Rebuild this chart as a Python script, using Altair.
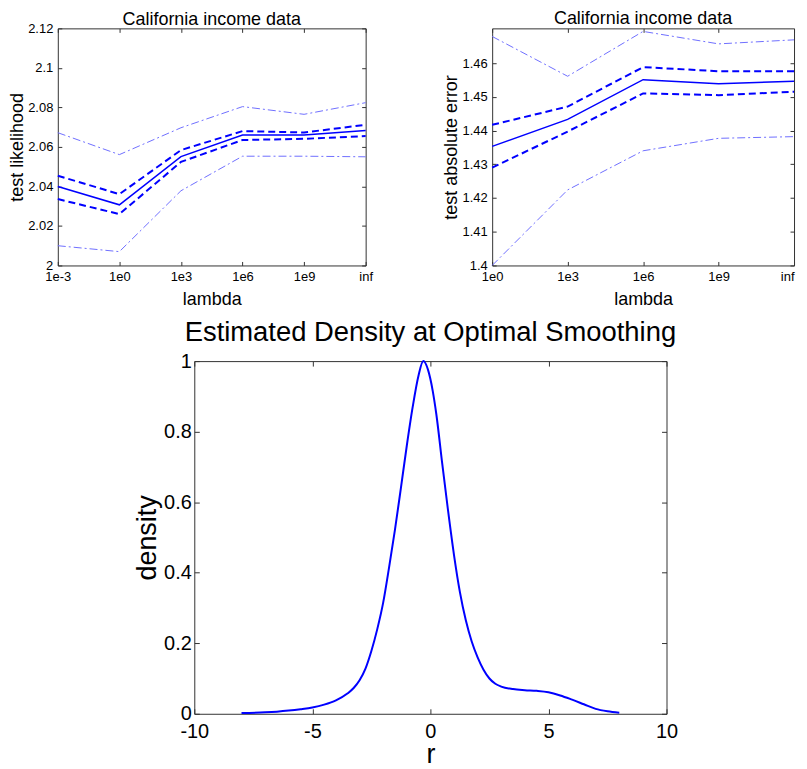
import altair as alt
import pandas as pd

FONT = "Liberation Sans"
BLUE = "#0000ff"
LIGHT = "#6f6fff"

# ---------------- top-left panel: test likelihood ----------------
lam_left = ["1e-3", "1e0", "1e3", "1e6", "1e9", "inf"]
lik_mean = [2.0400, 2.0307, 2.0551, 2.0660, 2.0660, 2.0683]
lik_hi = [2.0454, 2.0361, 2.0584, 2.0680, 2.0673, 2.0712]
lik_lo = [2.0336, 2.0260, 2.0524, 2.0635, 2.0641, 2.0655]
lik_max = [2.0672, 2.0561, 2.0697, 2.0804, 2.0765, 2.0824]
lik_min = [2.0100, 2.0070, 2.0378, 2.0553, 2.0553, 2.0550]
lik_ticks = [2.0, 2.02, 2.04, 2.06, 2.08, 2.1, 2.12]

# ---------------- top-right panel: test absolute error ----------------
lam_right = ["1e0", "1e3", "1e6", "1e9", "inf"]
err_mean = [1.4353, 1.4433, 1.4551, 1.4539, 1.4546]
err_hi = [1.4417, 1.4471, 1.4588, 1.4576, 1.4576]
err_lo = [1.4290, 1.4397, 1.4510, 1.4505, 1.4515]
err_max = [1.4679, 1.4561, 1.4694, 1.4657, 1.4669]
err_min = [1.4000, 1.4224, 1.4340, 1.4377, 1.4382]
err_ticks = [1.4, 1.41, 1.42, 1.43, 1.44, 1.45, 1.46]

# ---------------- bottom panel: estimated density ----------------
r_vals = [-8.0, -7.0, -6.5, -6.0, -5.5, -5.0, -4.5, -4.0, -3.5, -3.25, -3.0,
          -2.75, -2.5, -2.25, -2.0, -1.75, -1.5, -1.25, -1.0, -0.75, -0.5,
          -0.3, -0.1, 0.1, 0.25, 0.5, 0.75, 1.0, 1.25, 1.5, 1.75, 2.0, 2.25,
          2.5, 2.75, 3.0, 3.5, 4.0, 4.5, 5.0, 5.5, 6.0, 6.5, 7.0, 7.5, 8.0]
dens_vals = [0.002, 0.004, 0.006, 0.009, 0.013, 0.018, 0.026, 0.038, 0.058,
             0.073, 0.095, 0.128, 0.178, 0.240, 0.315, 0.415, 0.522, 0.640,
             0.760, 0.870, 0.960, 1.000, 0.975, 0.915, 0.850, 0.710, 0.575,
             0.450, 0.345, 0.265, 0.205, 0.160, 0.125, 0.100, 0.085, 0.077,
             0.070, 0.067, 0.065, 0.061, 0.052, 0.040, 0.027, 0.014, 0.007,
             0.003]
r_ticks = [-10, -5, 0, 5, 10]
dens_ticks = [0, 0.2, 0.4, 0.6, 0.8, 1]


def long_frame(lams, series):
    rows = []
    for name, style, vals in series:
        for lam, v in zip(lams, vals):
            rows.append({"lam": lam, "value": v, "series": name, "style": style})
    return pd.DataFrame(rows)


def tick_axis(orient, length, values):
    return alt.Axis(orient=orient, offset=-length, tickSize=length, labels=False,
                    domain=False, grid=False, title=None, values=values,
                    tickColor="#333333", tickWidth=1)


def top_panel(lams, series, ydomain, yticks, ytitle, width, height, ypad, toff, flush_last):
    df = long_frame(lams, series)
    xscale = alt.Scale(type="point", padding=0, domain=lams)
    yscale = alt.Scale(domain=ydomain, nice=False, zero=False)
    xaxis_kw = dict(orient="bottom", title="lambda", labelAngle=0, tickSize=0,
                    domain=False, labelPadding=5, titlePadding=7, labelFlush=False)
    if flush_last:
        xaxis_kw["labelAlign"] = {"condition": {"test": "datum.value === 'inf'", "value": "right"},
                                  "value": "center"}
    base = alt.Chart(df)
    solid = base.transform_filter(alt.datum.style == "mean").mark_line(
        color=BLUE, strokeWidth=1.5).encode(
        x=alt.X("lam:O", scale=xscale, sort=lams, axis=alt.Axis(**xaxis_kw)),
        y=alt.Y("value:Q", scale=yscale,
                axis=alt.Axis(orient="left", title=ytitle, values=yticks,
                              format="~g", tickSize=0, domain=False, grid=False,
                              labelPadding=5, titlePadding=ypad)),
        detail="series:N",
    )
    dashed = base.transform_filter(alt.datum.style == "band").mark_line(
        color=BLUE, strokeWidth=2, strokeDash=[7, 4]).encode(
        x=alt.X("lam:O", scale=xscale, sort=lams, axis=None),
        y=alt.Y("value:Q", scale=yscale, axis=None),
        detail="series:N",
    )
    dashdot = base.transform_filter(alt.datum.style == "range").mark_line(
        color=LIGHT, strokeWidth=1, strokeDash=[8, 3, 2, 3]).encode(
        x=alt.X("lam:O", scale=xscale, sort=lams, axis=None),
        y=alt.Y("value:Q", scale=yscale, axis=None),
        detail="series:N",
    )
    t1 = base.mark_point(opacity=0).encode(
        x=alt.X("lam:O", scale=xscale, sort=lams, axis=tick_axis("bottom", 4, lams)),
        y=alt.Y("value:Q", scale=yscale, axis=tick_axis("left", 4, yticks)),
    )
    t2 = base.mark_point(opacity=0).encode(
        x=alt.X("lam:O", scale=xscale, sort=lams, axis=tick_axis("top", 4, lams)),
        y=alt.Y("value:Q", scale=yscale, axis=tick_axis("right", 4, yticks)),
    )
    return alt.layer(dashdot, dashed, solid, t1, t2).resolve_axis(
        x="independent", y="independent").properties(
        width=width, height=height,
        title=alt.TitleParams("California income data", fontSize=18, font=FONT,
                              fontWeight="normal", color="black", offset=toff),
    )


left = top_panel(lam_left,
                 [("mean", "mean", lik_mean), ("hi", "band", lik_hi), ("lo", "band", lik_lo),
                  ("max", "range", lik_max), ("min", "range", lik_min)],
                 [2.0, 2.12], lik_ticks, "test likelihood", 309, 238, 1, -7, False)
right = top_panel(lam_right,
                  [("mean", "mean", err_mean), ("hi", "band", err_hi), ("lo", "band", err_lo),
                   ("max", "range", err_max), ("min", "range", err_min)],
                  [1.4, 1.4703], err_ticks, "test absolute error", 303, 238, 1, -0.5, True)

dens_df = pd.DataFrame({"r": r_vals, "density": dens_vals})
bx = alt.Scale(domain=[-10, 10], nice=False)
by = alt.Scale(domain=[0, 1], nice=False)
curve = alt.Chart(dens_df).mark_line(color=BLUE, strokeWidth=2, interpolate="monotone").encode(
    x=alt.X("r:Q", scale=bx,
            axis=alt.Axis(orient="bottom", title="r", values=r_ticks, labelExpr="'' + datum.value",
                          tickSize=0, domain=False, grid=False, labelPadding=8, titlePadding=0,
                          labelFlush=False, labelFontSize=20, titleFontSize=27)),
    y=alt.Y("density:Q", scale=by,
            axis=alt.Axis(orient="left", title="density", values=dens_ticks, format="~g",
                          tickSize=0, domain=False, grid=False, labelPadding=3, titlePadding=2,
                          labelFontSize=20, titleFontSize=27)),
)
b1 = alt.Chart(dens_df).mark_point(opacity=0).encode(
    x=alt.X("r:Q", scale=bx, axis=tick_axis("bottom", 5, r_ticks)),
    y=alt.Y("density:Q", scale=by, axis=tick_axis("left", 5, dens_ticks)),
)
b2 = alt.Chart(dens_df).mark_point(opacity=0).encode(
    x=alt.X("r:Q", scale=bx, axis=tick_axis("top", 5, r_ticks)),
    y=alt.Y("density:Q", scale=by, axis=tick_axis("right", 5, dens_ticks)),
)
bottom = alt.layer(curve, b1, b2).resolve_axis(x="independent", y="independent").properties(
    width=474, height=354,
    title=alt.TitleParams("Estimated Density at Optimal Smoothing", fontSize=27.5, font=FONT,
                          fontWeight="normal", color="black", offset=4.5),
)

# invisible spacer that pushes the bottom panel to the right
spacer = alt.Chart(pd.DataFrame({"a": [0]})).mark_point(opacity=0).encode(
    x=alt.X("a:Q", axis=None), y=alt.Y("a:Q", axis=None)
).properties(width=65, height=10,
             view=alt.ViewBackground(fill="white", stroke="white", strokeOpacity=0))

top_row = alt.hconcat(left, right, spacing=69)
bottom_row = alt.hconcat(spacer, bottom, spacing=10)
chart = alt.vconcat(top_row, bottom_row, spacing=9).properties(
    padding=0, background="white"
).configure_view(
    stroke="#333333", strokeWidth=1
).configure_axis(
    labelFont=FONT, titleFont=FONT, labelColor="black", titleColor="black",
    labelFontSize=13, titleFontSize=18, titleFontWeight="normal"
)

chart.save("out.html", embed_options={"renderer": "svg", "actions": False})
